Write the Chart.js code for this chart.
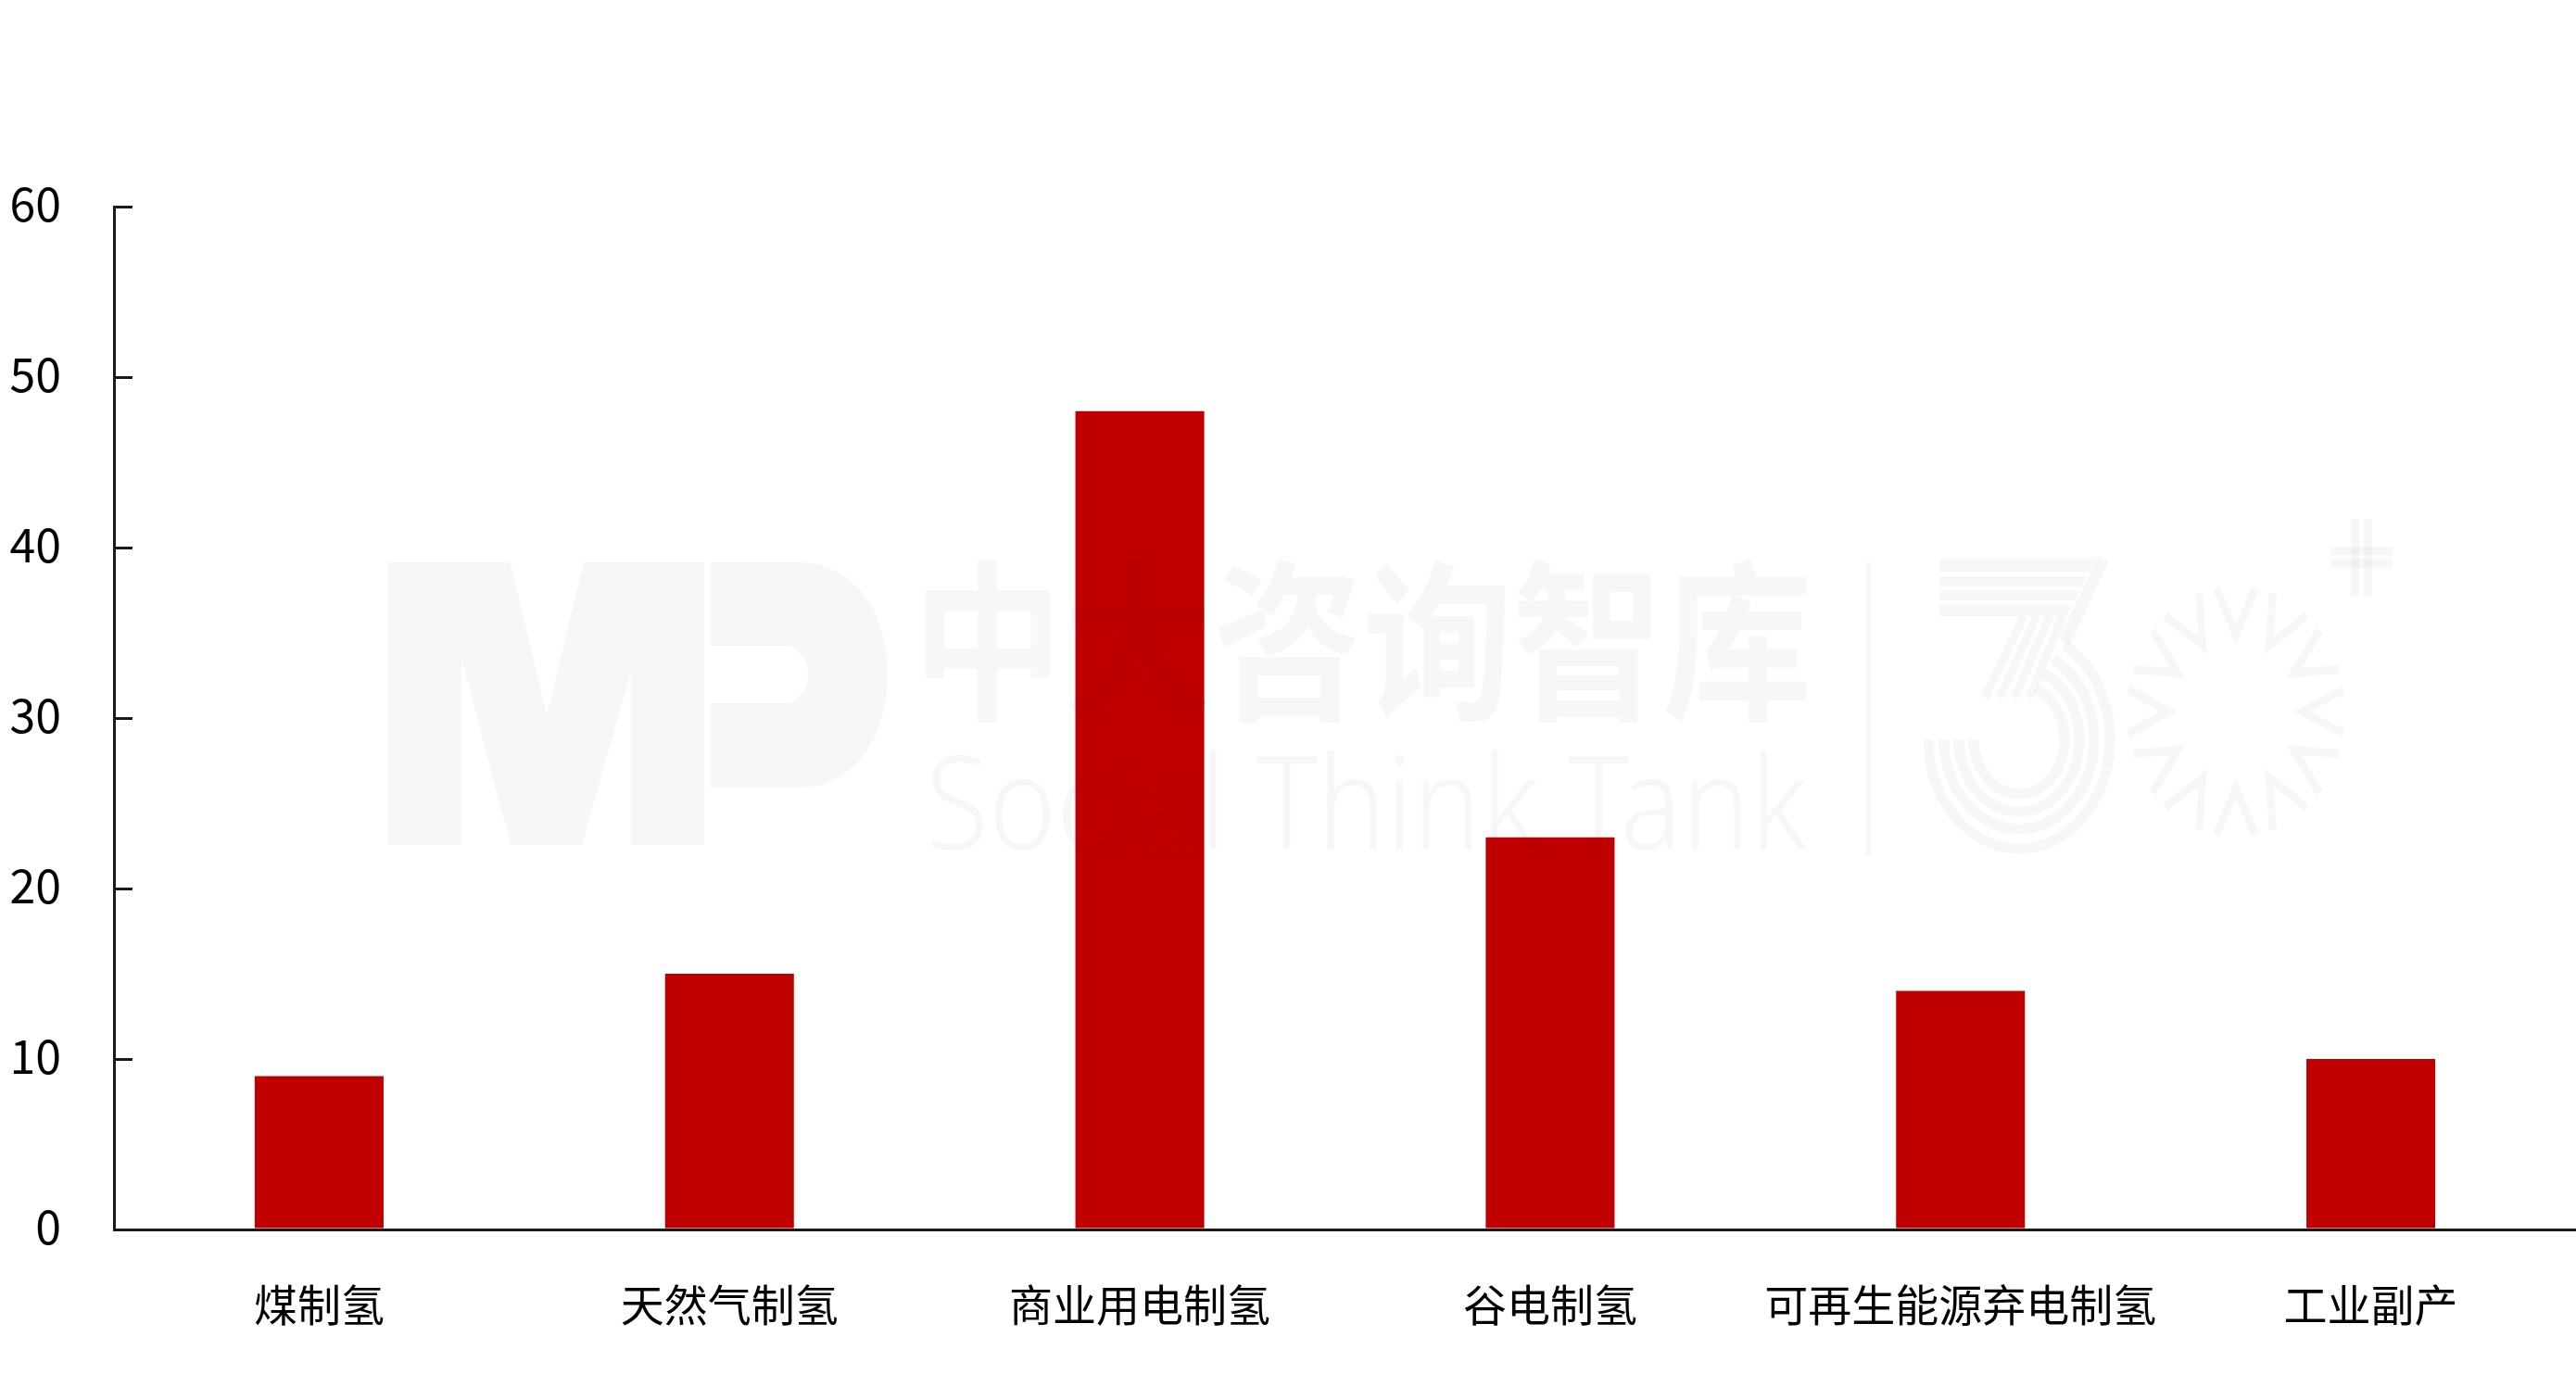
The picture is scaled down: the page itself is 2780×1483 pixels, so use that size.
<!DOCTYPE html>
<html>
<head>
<meta charset="utf-8">
<style>
  html, body { margin: 0; padding: 0; background: #fff; }
  canvas { display: block; }
</style>
<script src="https://cdn.jsdelivr.net/npm/chart.js@4/dist/chart.umd.min.js"></script>
</head>
<body>
<canvas id="hydrogen" width="2780" height="1483"></canvas>
<script>
var categories = ['煤制氢', '天然气制氢', '商业用电制氢', '谷电制氢', '可再生能源弃电制氢', '工业副产'];
var values = [9, 15, 48, 23, 14, 10];
var yTicks = [0, 10, 20, 30, 40, 50, 60];
var watermarkCn = '中大咨询智库';
var watermarkEn = 'Social Think Tank';

var inkColor = '#1a1a1a';
var barColor = '#c00000';
var cjkFont = '"Noto Sans CJK SC", "Noto Sans", sans-serif';

// faint logo printed over the whole chart, multiply so it darkens the bars too
function drawWatermark(ctx) {
  ctx.save();
  ctx.globalCompositeOperation = 'multiply';
  ctx.fillStyle = '#f7f7f7';
  ctx.strokeStyle = '#f7f7f7';

  // M
  var m = [[419,607],[551,607],[590,772],[630,607],[760,607],[760,912],[681,912],[681,725],[628,912],[551,912],[498,710],[498,912],[419,912]];
  ctx.beginPath();
  m.forEach(function(p, i) { i ? ctx.lineTo(p[0], p[1]) : ctx.moveTo(p[0], p[1]); });
  ctx.closePath();
  ctx.fill();

  // P
  ctx.beginPath();
  ctx.moveTo(767, 607);
  ctx.lineTo(862, 607);
  ctx.bezierCurveTo(925, 607, 958, 665, 958, 728);
  ctx.bezierCurveTo(958, 792, 925, 850, 862, 850);
  ctx.lineTo(767, 850);
  ctx.lineTo(767, 759);
  ctx.lineTo(851, 759);
  ctx.quadraticCurveTo(872, 750, 872, 728);
  ctx.quadraticCurveTo(872, 706, 851, 697);
  ctx.lineTo(767, 697);
  ctx.closePath();
  ctx.fill();

  // Chinese name, squeezed sideways as in the logo
  ctx.save();
  ctx.translate(985, 763);
  ctx.scale(0.875, 1);
  ctx.font = '700 185px ' + cjkFont;
  ctx.textAlign = 'left';
  ctx.textBaseline = 'alphabetic';
  ctx.fillText(watermarkCn, 0, 0);
  ctx.restore();

  // English name
  ctx.save();
  ctx.font = '300 140px "Noto Sans", sans-serif';
  var w = ctx.measureText(watermarkEn).width;
  ctx.translate(999, 917);
  ctx.scale(951 / w, 1);
  ctx.fillText(watermarkEn, 0, 0);
  ctx.restore();

  // divider
  ctx.fillRect(2014, 607, 5, 316);

  // the 3
  var bars = [[603, 617], [622, 633], [637, 648], [653, 665]];
  bars.forEach(function(b) {
    ctx.beginPath();
    ctx.moveTo(2093, b[0]);
    ctx.lineTo(2262 - (b[0] - 603) * 0.52, b[0]);
    ctx.lineTo(2262 - (b[1] - 603) * 0.52, b[1]);
    ctx.lineTo(2093, b[1]);
    ctx.closePath();
    ctx.fill();
  });
  ctx.lineWidth = 13;
  ctx.beginPath();
  ctx.moveTo(2270, 603);
  ctx.lineTo(2228, 693);
  ctx.stroke();
  ctx.lineWidth = 9;
  [[2184, 2142], [2198, 2158], [2212, 2174], [2226, 2190]].forEach(function(s) {
    ctx.beginPath();
    ctx.moveTo(s[0], 665);
    ctx.lineTo(s[1], 753);
    ctx.stroke();
  });
  ctx.lineWidth = 11;
  [[98, 118, -1.05], [81, 97, -1.1], [65, 78, -1.15], [49, 59, -1.2]].forEach(function(a) {
    ctx.beginPath();
    ctx.ellipse(2179, 798, a[0], a[1], 0, Math.PI, a[2], true);
    ctx.stroke();
  });

  // the sun, twelve chevrons
  ctx.lineWidth = 8;
  ctx.lineJoin = 'miter';
  for (var k = 0; k < 12; k++) {
    ctx.save();
    ctx.translate(2413, 768);
    ctx.scale(1, 1.15);
    ctx.rotate(k * Math.PI / 6);
    ctx.beginPath();
    ctx.moveTo(-21, -116);
    ctx.lineTo(0, -72);
    ctx.lineTo(21, -116);
    ctx.stroke();
    ctx.restore();
  }

  // the plus
  ctx.fillRect(2537, 560, 9, 83);
  ctx.fillRect(2551, 560, 9, 83);
  ctx.fillRect(2515, 590, 67, 9);
  ctx.fillRect(2515, 603, 67, 10);
  ctx.restore();
}

var watermarkPlugin = {
  id: 'watermark',
  afterDraw: function(chart) { drawWatermark(chart.ctx); }
};

var ctx = document.getElementById('hydrogen').getContext('2d');
new Chart(ctx, {
  type: 'bar',
  data: {
    labels: categories,
    datasets: [{
      data: values,
      backgroundColor: barColor,
      borderWidth: 0,
      categoryPercentage: 1,
      barPercentage: 0.314
    }]
  },
  plugins: [watermarkPlugin],
  options: {
    responsive: false,
    animation: false,
    devicePixelRatio: 1,
    layout: { padding: { top: 223, left: 0, right: 0, bottom: 0 } },
    plugins: { legend: { display: false }, title: { display: false }, tooltip: { enabled: false } },
    scales: {
      x: {
        afterFit: function(scale) { scale.height = 156; },
        border: { display: true, color: inkColor, width: 3 },
        grid: { display: false, drawTicks: false },
        ticks: {
          color: '#000',
          font: { family: cjkFont, size: 47 },
          padding: 53,
          maxRotation: 0,
          autoSkip: false
        }
      },
      y: {
        min: yTicks[0],
        max: yTicks[yTicks.length - 1],
        afterFit: function(scale) { scale.width = 123; },
        border: { display: true, color: inkColor, width: 3 },
        grid: { drawOnChartArea: false, drawTicks: true, color: inkColor, lineWidth: 3, tickLength: -20 },
        ticks: {
          stepSize: yTicks[1] - yTicks[0],
          color: '#000',
          // the empty second line lifts the number a little above its tick
          callback: function(value) { return [String(value), '']; },
          font: { family: cjkFont, size: 50, lineHeight: '7px' },
          padding: 77
        }
      }
    }
  }
});
</script>
</body>
</html>
